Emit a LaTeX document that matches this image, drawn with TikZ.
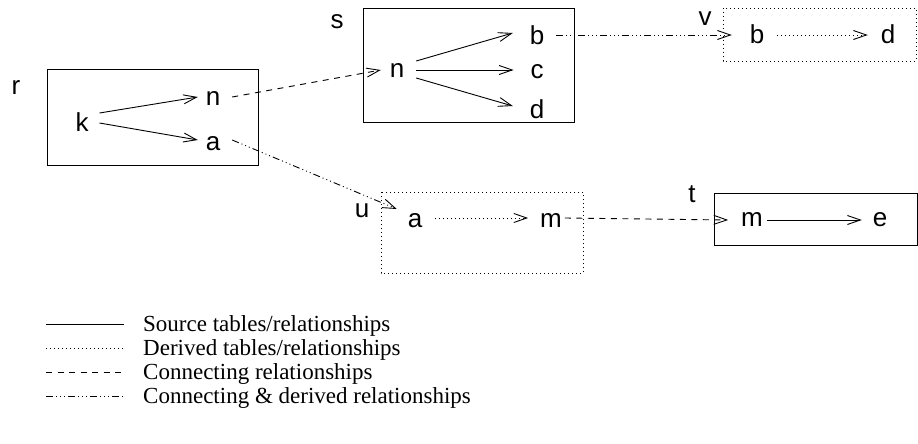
\documentclass[tikz,border=0pt]{standalone}
\usepackage{fontspec}
\setmainfont{Liberation Serif}
\newfontfamily\lettersans{Liberation Sans}
\usetikzlibrary{arrows.meta,calc}

\tikzset{
  x=1pt, y=1pt,
  thinline/.style={line width=0.9pt},
  tbl/.style={thinline, draw=black},
  derivedtbl/.style={tbl, dash pattern=on 1pt off 3pt},
  letter/.style={font=\lettersans\fontsize{26}{26}\selectfont, inner sep=0pt,
                 outer sep=0pt, text height=13.5pt, text depth=0pt},
  tip/.style={-{Straight Barb[length=13pt,width=9pt,line width=0.9pt]}},
  srcrel/.style={thinline, tip},
  derivedrel/.style={thinline, tip, dash pattern=on 1pt off 3pt},
  connrel/.style={thinline, tip, dash pattern=on 6pt off 5.5pt},
  conndrel/.style={thinline, tip, dash pattern=on 7pt off 3pt on 1pt off 3pt on 1pt off 3pt on 1pt off 3pt},
  legendtext/.style={font=\fontsize{23}{24}\selectfont, inner sep=0pt, anchor=base west},
}

\begin{document}
\begin{tikzpicture}
\useasboundingbox (0,0) rectangle (918,-444);

% table boxes
\draw[tbl] (47,-69) rectangle (258,-165);
\draw[tbl] (363,-8) rectangle (574,-122);
\draw[derivedtbl] (723,-8) rectangle (916,-61);
\draw[derivedtbl] (381,-192) rectangle (583,-273);
\draw[tbl] (714,-193) rectangle (917,-245);

% table names
\node[letter] (lr) at (16,-88) {r};
\node[letter] (ls) at (337,-22) {s};
\node[letter] (lv) at (705,-19) {v};
\node[letter] (lu) at (362,-211) {u};
\node[letter] (lt) at (692,-196) {t};

% attributes
\node[letter] (k)  at (82,-125) {k};
\node[letter] (rn) at (213,-99) {n};
\node[letter] (ra) at (213,-144) {a};
\node[letter] (sn) at (397,-71) {n};
\node[letter] (sb) at (537,-38) {b};
\node[letter] (sc) at (537,-72) {c};
\node[letter] (sd) at (537,-112) {d};
\node[letter] (vb) at (757,-37) {b};
\node[letter] (vd) at (888,-37) {d};
\node[letter] (ua) at (415,-221) {a};
\node[letter] (um) at (551,-221) {m};
\node[letter] (tm) at (752,-220) {m};
\node[letter] (te) at (880,-220) {e};

% relationships inside tables
\draw[srcrel] ($(k.east)+(11,12)$) -- ($(rn.west)+(-8,2)$);
\draw[srcrel] ($(k.east)+(11,2)$) -- ($(ra.west)+(-8,4)$);
\draw[srcrel] ($(sn.east)+(12,10)$) -- ($(sb.west)+(-17,5)$);
\draw[srcrel] ($(sn.east)+(12,1)$) -- ($(sc.west)+(-17,2)$);
\draw[srcrel] ($(sn.east)+(12,-7)$) -- ($(sd.west)+(-17,6)$);
\draw[derivedrel] ($(vb.east)+(13,2)$) -- ($(vd.west)+(-13,2)$);
\draw[derivedrel] ($(ua.east)+(13,3)$) -- ($(um.west)+(-12,3)$);
\draw[srcrel] ($(tm.east)+(4,0)$) -- ($(te.west)+(-11,0)$);

% relationships between tables
\draw[connrel] ($(rn.east)+(12,2)$) -- ($(sn.west)+(-9,1)$);
\draw[connrel] ($(um.east)+(3,3)$) -- ($(tm.west)+(-13,0)$);
\draw[conndrel] ($(sb.east)+(12,3)$) -- ($(vb.west)+(-18,2)$);
\draw[conndrel] ($(ra.east)+(12,4)$) -- ($(ua.west)+(-11,12)$);

% legend
\coordinate (l1a) at (46,-324); \coordinate (l1b) at (124,-324);
\coordinate (l2a) at (46,-348); \coordinate (l2b) at (124,-348);
\coordinate (l3a) at (46,-372); \coordinate (l3b) at (124,-372);
\coordinate (l4a) at (46,-396); \coordinate (l4b) at (124,-396);
\draw[thinline] (l1a) -- (l1b);
\draw[thinline, dash pattern=on 1pt off 3pt] (l2a) -- (l2b);
\draw[thinline, dash pattern=on 6pt off 5.5pt] (l3a) -- (l3b);
\draw[thinline, dash pattern=on 7pt off 3pt on 1pt off 3pt on 1pt off 3pt on 1pt off 3pt] (l4a) -- (l4b);
\node[legendtext] (t1) at (143,-331) {Source tables/relationships};
\node[legendtext] (t2) at (143,-355) {Derived tables/relationships};
\node[legendtext] (t3) at (143,-379) {Connecting relationships};
\node[legendtext] (t4) at (143,-403) {Connecting \& derived relationships};
\end{tikzpicture}
\end{document}
